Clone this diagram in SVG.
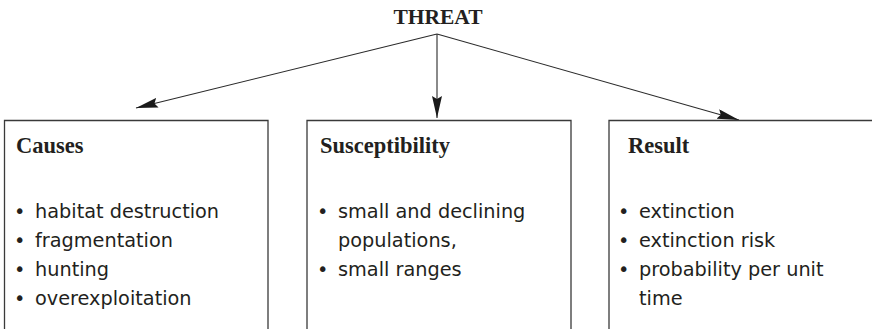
<svg xmlns="http://www.w3.org/2000/svg" width="872" height="329" viewBox="0 0 872 329">
<style>
.box{fill:none;stroke:#3a3a3a;stroke-width:1.3}
.con{fill:none;stroke:#2a2a2a;stroke-width:1.1}
.head{font-family:"Liberation Serif",serif;font-weight:bold;font-size:22.5px;fill:#231f20}
.title{font-family:"Liberation Serif",serif;font-weight:bold;font-size:21.5px;fill:#231f20}
.item{font-family:"DejaVu Sans","Noto Sans",sans-serif;font-size:19.3px;fill:#231f20}
</style>
<defs>
<marker id="ah" viewBox="0 0 22 10" refX="22" refY="5" markerWidth="22" markerHeight="10" markerUnits="userSpaceOnUse" orient="auto">
<path d="M0,0 L22,5 L0,10 L3,5 Z" fill="#1a1a1a"/>
</marker>
</defs>
<rect width="872" height="329" fill="#ffffff"/>
<g id="threat">
<text class="title" x="438" y="23.5" text-anchor="middle">THREAT</text>
</g>
<g id="connectors">
<line class="con" x1="437" y1="34" x2="136" y2="108" marker-end="url(#ah)"/>
<line class="con" x1="437" y1="34" x2="437" y2="118" marker-end="url(#ah)"/>
<line class="con" x1="437" y1="34" x2="739" y2="120" marker-end="url(#ah)"/>
</g>
<g id="causes">
<path class="box" d="M4.5,330 V120.5 H268 V330"/>
<text class="head" x="16" y="153">Causes</text>
<text class="item" y="218"><tspan x="14">•</tspan><tspan x="35">habitat destruction</tspan></text>
<text class="item" y="247"><tspan x="14">•</tspan><tspan x="35">fragmentation</tspan></text>
<text class="item" y="276"><tspan x="14">•</tspan><tspan x="35">hunting</tspan></text>
<text class="item" y="305"><tspan x="14">•</tspan><tspan x="35">overexploitation</tspan></text>
</g>
<g id="susceptibility">
<path class="box" d="M307,330 V120.5 H571 V330"/>
<text class="head" x="320" y="153">Susceptibility</text>
<text class="item" y="218"><tspan x="317">•</tspan><tspan x="338">small and declining</tspan></text>
<text class="item" y="247"><tspan x="338">populations,</tspan></text>
<text class="item" y="276"><tspan x="317">•</tspan><tspan x="338">small ranges</tspan></text>
</g>
<g id="result">
<path class="box" d="M609,330 V120.5 H873"/>
<text class="head" x="628" y="153">Result</text>
<text class="item" y="218"><tspan x="618">•</tspan><tspan x="639">extinction</tspan></text>
<text class="item" y="247"><tspan x="618">•</tspan><tspan x="639">extinction risk</tspan></text>
<text class="item" y="276"><tspan x="618">•</tspan><tspan x="639">probability per unit</tspan></text>
<text class="item" y="305"><tspan x="639">time</tspan></text>
</g>
</svg>
